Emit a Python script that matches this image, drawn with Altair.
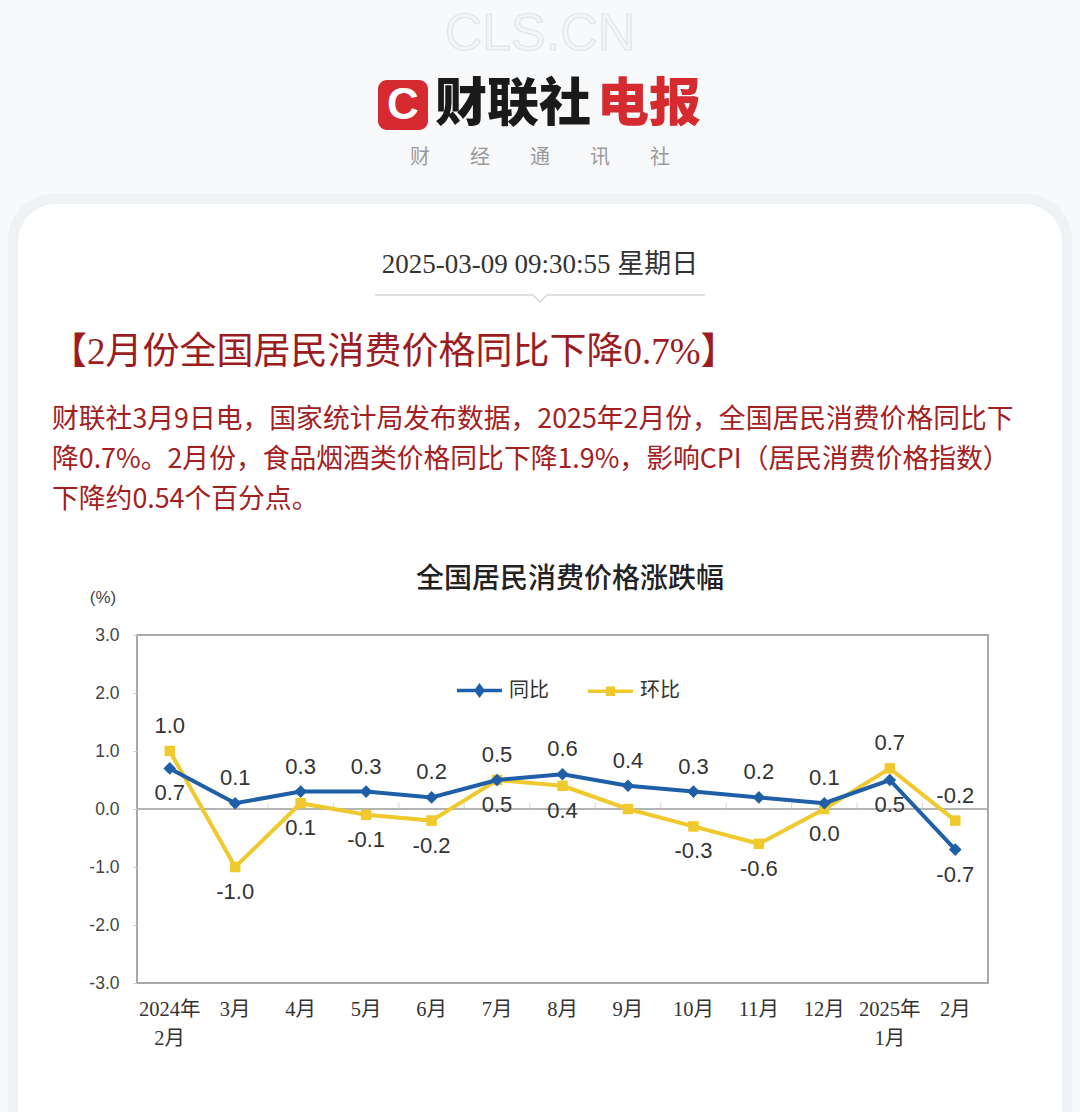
import altair as alt
import pandas as pd

# ---------------- data ----------------
months = ["2024年\n2月", "3月", "4月", "5月", "6月", "7月", "8月", "9月",
          "10月", "11月", "12月", "2025年\n1月", "2月"]
yoy = [0.7, 0.1, 0.3, 0.3, 0.2, 0.5, 0.6, 0.4, 0.3, 0.2, 0.1, 0.5, -0.7]
mom = [1.0, -1.0, 0.1, -0.1, -0.2, 0.5, 0.4, 0.0, -0.3, -0.6, 0.0, 0.7, -0.2]
mom_labelled = [True, True, True, True, True, True, True, False, True, True, True, True, True]
series_names = ["同比", "环比"]
y_ticks = [-3, -2, -1, 0, 1, 2, 3]

# ---------------- layout constants ----------------
W, H = 1080, 1112
LEFT, TOP, RIGHT, BOTTOM = 137, 635, 92, 129
PW, PH = W - LEFT - RIGHT, H - TOP - BOTTOM
STEP = PW / len(months)
BLUE, YELLOW = "#1e5fa8", "#f0c92e"
RED = "#d42a30"
CJK = "Noto Sans CJK SC"

rows = []
for i, m in enumerate(months):
    rows.append(dict(month=m, series="同比", value=yoy[i], label=f"{yoy[i]:.1f}",
                     above=yoy[i] >= mom[i], show=True))
    rows.append(dict(month=m, series="环比", value=mom[i], label=f"{mom[i]:.1f}",
                     above=mom[i] > yoy[i], show=mom_labelled[i]))
df = pd.DataFrame(rows)
one = pd.DataFrame({"k": [0]})
tick_df = pd.DataFrame({"month": months[1:]})


def px(x):
    return x - LEFT


def py(y):
    return y - TOP


def txt(s, x, y, size, color, font, weight="normal", align="center", **extra):
    return alt.Chart(one).mark_text(
        text=s, fontSize=size, color=color, font=font, fontWeight=weight,
        align=align, baseline="middle", **extra
    ).encode(x=alt.value(px(x)), y=alt.value(py(y)))


def rect(x1, x2, y1, y2, fill, radius=0, stroke=None):
    kw = dict(fill=fill, cornerRadius=radius)
    if stroke:
        kw.update(stroke=stroke, strokeWidth=2)
    return alt.Chart(one).mark_rect(**kw).encode(
        x=alt.value(px(x1)), x2=alt.value(px(x2)),
        y=alt.value(py(y1)), y2=alt.value(py(y2)))


def seg(x1, y1, x2, y2, color="#d6d6d6", width=1.5):
    return alt.Chart(one).mark_rule(color=color, strokeWidth=width).encode(
        x=alt.value(px(x1)), x2=alt.value(px(x2)),
        y=alt.value(py(y1)), y2=alt.value(py(y2)))


# ---------------- decoration (page) ----------------
deco = [
    rect(8, 1072, 194, 1300, "#eff2f5", 46),
    rect(18, 1062, 204, 1300, "#ffffff", 38),
    txt("CLS.CN", 540, 34, 52, "#f4f5f7", "Liberation Sans", stroke="#e2e4e7", strokeWidth=1.2),
    rect(378, 428, 80, 130, RED, 9),
    txt("C", 403, 106, 44, "#ffffff", "Liberation Sans", "bold"),
    txt("财联社", 435, 105, 52, "#1a1a1a", CJK, 900, "left"),
    txt("电报", 597, 105, 52, RED, CJK, 900, "left"),
    txt("财　　经　　通　　讯　　社", 540, 158, 20, "#9a9a9a", CJK),
    txt("2025-03-09 09:30:55 星期日", 540, 265, 27, "#333333", f"Liberation Serif, {CJK}"),
    seg(375, 295, 533, 295), seg(533, 295, 540, 302), seg(540, 302, 547, 295), seg(547, 295, 705, 295),
    txt("【2月份全国居民消费价格同比下降0.7%】", 50, 353, 37, "#9c1c22", f"Liberation Serif, {CJK}", "normal", "left"),
    txt("财联社3月9日电，国家统计局发布数据，2025年2月份，全国居民消费价格同比下", 52, 420, 26.8, "#a3201f", CJK, "normal", "left"),
    txt("降0.7%。2月份，食品烟酒类价格同比下降1.9%，影响CPI（居民消费价格指数）", 52, 460, 26.8, "#a3201f", CJK, "normal", "left"),
    txt("下降约0.54个百分点。", 52, 500, 26.8, "#a3201f", CJK, "normal", "left"),
    txt("全国居民消费价格涨跌幅", 570, 580, 28, "#222222", CJK, 500),
    txt("(%)", 103, 598, 17, "#444444", "Liberation Sans"),
    rect(LEFT, LEFT + PW, TOP, TOP + PH, "transparent", 0, "#a9a9a9"),
]

# ---------------- chart ----------------
X = alt.X("month:N", sort=months, title=None,
          scale=alt.Scale(type="band", paddingInner=0, paddingOuter=0),
          axis=alt.Axis(domain=False, ticks=False, grid=False, labelAngle=0, zindex=1,
                        labelExpr="split(datum.label, '\\n')",
                        labelFont=f"Liberation Serif, {CJK}", labelFontSize=20.5,
                        labelLineHeight=29, labelPadding=16, labelColor="#333333"))
Y = alt.Y("value:Q", title=None,
          scale=alt.Scale(domain=[-3, 3], nice=False, zero=False),
          axis=alt.Axis(values=y_ticks, domain=False, grid=False, tickSize=4, zindex=1,
                        tickColor="#c8c8c8", labelFontSize=17.5, labelColor="#444444",
                        labelFont="Liberation Sans", labelPadding=14,
                        labelExpr="replace(format(datum.value, '.1f'), '\u2212', '-')"))

diamond_path = "M-1,0L1,0M0,-0.2L0.15,0L0,0.2L-0.15,0Z"
square_path = "M-1,0L1,0M-0.13,-0.13L0.13,-0.13L0.13,0.13L-0.13,0.13Z"


def make_legend():
    return alt.Legend(
        orient="none", legendX=318, legendY=31, direction="horizontal",
        symbolSize=2025, symbolStrokeWidth=3.5, symbolOpacity=1,
        labelFontSize=20, labelFont=CJK, labelColor="#333333",
        labelOffset=5, columnPadding=32, padding=0, zindex=1)


color_scale = alt.Scale(domain=series_names, range=[BLUE, YELLOW])
C = alt.Color("series:N", title=None, scale=color_scale, legend=None)
C_leg = alt.Color("series:N", title=None, scale=color_scale, legend=make_legend())
S_leg = alt.Shape("series:N", title=None,
                  scale=alt.Scale(domain=series_names, range=[diamond_path, square_path]),
                  legend=make_legend())

base = alt.Chart(df)
zero = alt.Chart(one).mark_rule(color="#b4b4b4", strokeWidth=2).encode(y=alt.datum(0))
ticks = alt.Chart(tick_df).mark_tick(orient="vertical", size=6, thickness=1, color="#c4c4c4",
                                     xOffset=-STEP / 2, yOffset=-3).encode(x=X, y=alt.datum(0))
legend_layer = base.mark_point(filled=False, opacity=0, strokeWidth=3.5).encode(
    x=X, y=Y, color=C_leg, shape=S_leg)


def series_layers(name, shape, size):
    s = base.transform_filter(f"datum.series == '{name}'")
    ln = s.mark_line(strokeWidth=4).encode(x=X, y=Y, color=C)
    pt = s.mark_point(shape=shape, filled=True, size=size, opacity=1).encode(x=X, y=Y, color=C)
    return [ln, pt]


lab_kw = dict(fontSize=22, color="#333333", font="Liberation Sans Narrow, Liberation Sans")
labels_above = base.transform_filter("datum.show && datum.above").mark_text(
    dy=-25, **lab_kw).encode(x=X, y=Y, text="label:N")
labels_below = base.transform_filter("datum.show && !datum.above").mark_text(
    dy=25, **lab_kw).encode(x=X, y=Y, text="label:N")

layers = deco + [zero, ticks, legend_layer] + series_layers("环比", "square", 110) + \
    series_layers("同比", "diamond", 160) + [labels_above, labels_below]

chart = alt.layer(*layers).properties(
    width=PW, height=PH,
    padding={"left": LEFT, "top": TOP, "right": RIGHT, "bottom": BOTTOM},
    autosize=alt.AutoSizeParams(type="none"),
    background="#f8f9fb",
).configure_view(stroke=None)

chart.save("out.html", embed_options={"renderer": "svg", "actions": False})
